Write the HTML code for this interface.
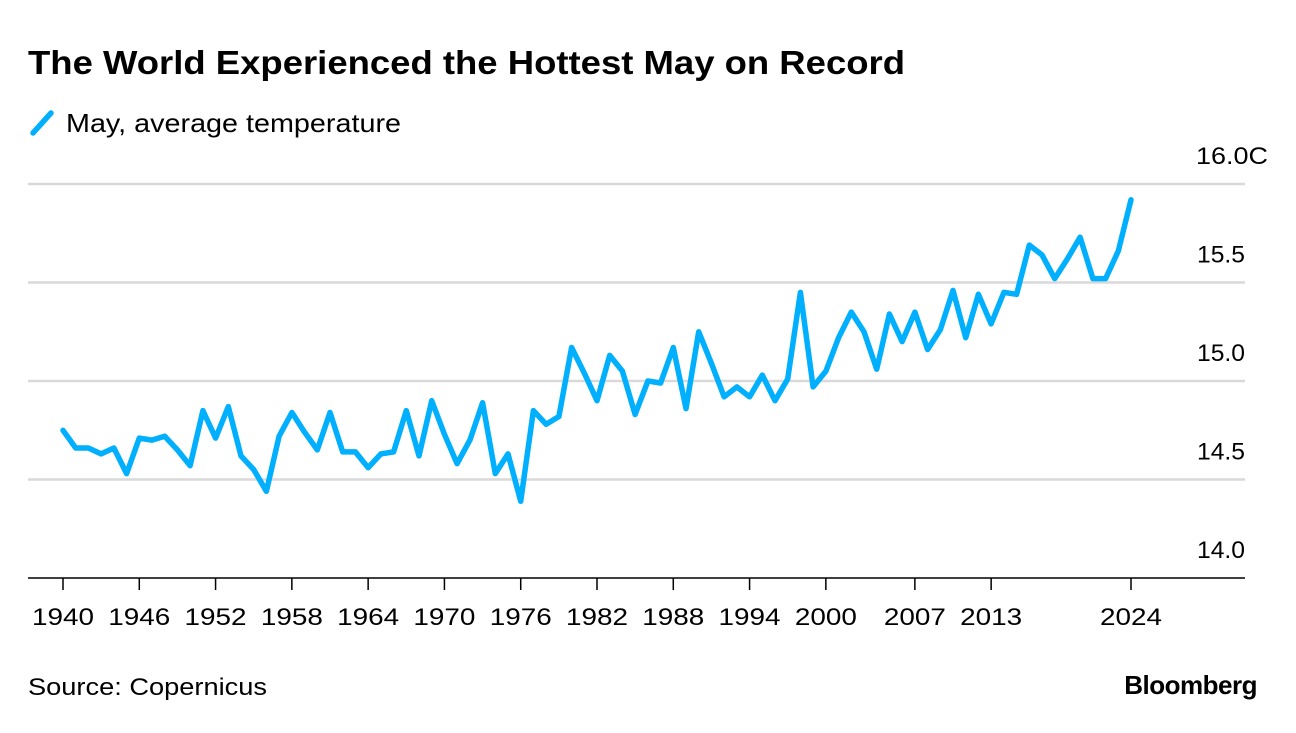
<!DOCTYPE html>
<html><head><meta charset="utf-8"><style>
body{margin:0;background:#fff;font-family:"Liberation Sans",sans-serif;}
svg text{font-family:"Liberation Sans",sans-serif;}
</style></head><body>
<svg id="chart" width="1296" height="728">
<text x="28" y="74" font-size="33" font-weight="bold" fill="#000" textLength="877" lengthAdjust="spacingAndGlyphs">The World Experienced the Hottest May on Record</text>
<line x1="33" y1="133" x2="51" y2="113" stroke="#00b0ff" stroke-width="5.5" stroke-linecap="round"/>
<text x="66" y="132" font-size="26" fill="#000" textLength="335" lengthAdjust="spacingAndGlyphs">May, average temperature</text>
<g id="grid"></g>
<g id="xaxis"></g>
<path id="line" fill="none" stroke="#00b0ff" stroke-width="5.5" stroke-linejoin="round" stroke-linecap="round"/>
<text x="28" y="695" font-size="24" fill="#000" textLength="239" lengthAdjust="spacingAndGlyphs">Source: Copernicus</text>
<text x="1257" y="694" font-size="26" font-weight="bold" text-anchor="end" fill="#000" letter-spacing="-0.5">Bloomberg</text>
</svg>
<script>
const startYear = 1940;
const values = [14.75,14.66,14.66,14.63,14.66,14.53,14.71,14.70,14.72,14.65,14.57,14.85,14.71,14.87,14.62,14.55,14.44,14.72,14.84,14.74,14.65,14.84,14.64,14.64,14.56,14.63,14.64,14.85,14.62,14.90,14.73,14.58,14.70,14.89,14.53,14.63,14.39,14.85,14.78,14.82,15.17,15.04,14.90,15.13,15.05,14.83,15.00,14.99,15.17,14.86,15.25,15.09,14.92,14.97,14.92,15.03,14.90,15.01,15.45,14.97,15.05,15.22,15.35,15.25,15.06,15.34,15.20,15.35,15.16,15.26,15.46,15.22,15.44,15.29,15.45,15.44,15.69,15.64,15.52,15.62,15.73,15.52,15.52,15.66,15.92];
const xTicks = [1940,1946,1952,1958,1964,1970,1976,1982,1988,1994,2000,2007,2013,2024];
const yTicks = [14.0,14.5,15.0,15.5,16.0];
const yTickLabels = ["14.0","14.5","15.0","15.5","16.0C"];
const NS='http://www.w3.org/2000/svg';
const x = yr => 63 + (yr-1940)*(1131-63)/84;
const y = v => 578 - (v-14)*197;
const grid=document.getElementById('grid'), xa=document.getElementById('xaxis');
yTicks.forEach((t,i)=>{
  const l=document.createElementNS(NS,'line');
  
  
  l.setAttribute('x1',28);l.setAttribute('x2',1245);l.setAttribute('y1',y(t));l.setAttribute('y2',y(t));
  l.setAttribute('stroke',i===0?'#000':'#d9d9d9');l.setAttribute('stroke-width',i===0?1.5:2.5);
  grid.appendChild(l);
  const tx=document.createElementNS(NS,'text');
  
  
  tx.setAttribute('x',i===4?1268:1245);tx.setAttribute('y',y(t)-20);tx.setAttribute('text-anchor','end');
  tx.setAttribute('font-size','24');
  tx.setAttribute('textLength',i===4?72:48);tx.setAttribute('lengthAdjust','spacingAndGlyphs');
  tx.textContent=yTickLabels[i];grid.appendChild(tx);
});
xTicks.forEach(t=>{
  const l=document.createElementNS(NS,'line');
  
  
  l.setAttribute('x1',x(t));l.setAttribute('x2',x(t));l.setAttribute('y1',578);l.setAttribute('y2',590);
  l.setAttribute('stroke','#000');l.setAttribute('stroke-width',1.5);xa.appendChild(l);
  const tx=document.createElementNS(NS,'text');
  
  
  tx.setAttribute('x',x(t));tx.setAttribute('y',625);tx.setAttribute('text-anchor','middle');
  tx.setAttribute('font-size','24');
  tx.setAttribute('textLength',62);tx.setAttribute('lengthAdjust','spacingAndGlyphs');
  tx.textContent=t;xa.appendChild(tx);
});
document.getElementById('line').setAttribute('d',values.map((v,i)=>(i?'L':'M')+x(startYear+i).toFixed(1)+','+y(v).toFixed(1)).join(''));
</script>
</body></html>
